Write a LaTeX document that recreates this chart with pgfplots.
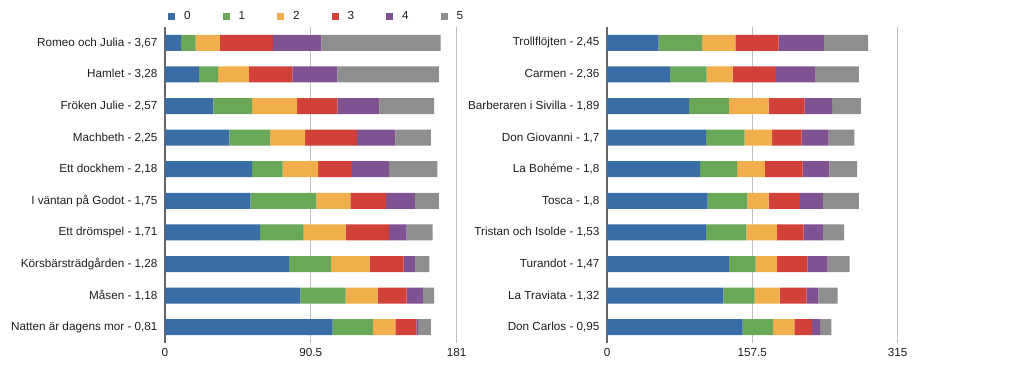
\documentclass[border=0pt]{standalone}
\usepackage{pgfplots}
\pgfplotsset{compat=1.18}
\usepackage{pgfplotstable}
\usepackage{fontspec}
\setmainfont{Liberation Sans}
\definecolor{c0}{RGB}{58,108,165}
\definecolor{c1}{RGB}{106,167,88}
\definecolor{c2}{RGB}{241,175,76}
\definecolor{c3}{RGB}{210,64,58}
\definecolor{c4}{RGB}{129,82,146}
\definecolor{c5}{RGB}{142,142,142}
\definecolor{txt}{RGB}{30,30,30}

\pgfplotstableread{
y c0 c1 c2 c3 c4 c5
0 10 9 15 33 30 74
1 21 12 19 27 28 63
2 30 24 28 25 26 34
3 40 25 22 32 24 22
4 54 19 22 21 23 30
5 53 41 21 22 18 15
6 59 27 26 27 11 16
7 77 26 24 21 7 9
8 84 28 20 18 10 7
9 104 25 14 13 1 8
}\lefttab

\pgfplotstableread{
y c0 c1 c2 c3 c4 c5
0 56 47 36 47 49 48
1 68 40 28 47 43 47
2 89 43 43 39 30 31
3 107 42 30 32 29 28
4 101 40 30 41 29 30
5 109 43 23 34 25 39
6 107 44 33 29 21 23
7 132 29 23 33 22 24
8 126 34 27 29 13 21
9 147 33 23 19 9 12
}\righttab

\pgfplotsset{
  mybase/.style={
    xbar stacked,
    scale only axis,
    height=316pt,
    anchor=south west,
    y dir=reverse,
    ymin=-0.5, ymax=9.5,
    xmin=0,
    bar width=16pt,
    separate axis lines,
    axis x line*=bottom,
    axis y line*=left,
    x axis line style={draw=none},
    y axis line style={draw=black!60, line width=1.2pt},
    xmajorgrids,
    grid style={black!25, line width=0.8pt},
    major tick length=0pt,
    ytick={0,...,9},
    ticklabel style={font=\fontsize{11.7}{13}\selectfont, text=txt},
    xticklabel style={yshift=-2pt},
    yticklabel style={xshift=-4pt},
    every axis plot/.append style={draw=none},
    legend image code/.code={\fill[##1] (0pt,-3.5pt) rectangle (7pt,3.5pt);},
  }
}

\begin{document}
\begin{tikzpicture}
\useasboundingbox (0pt,0pt) rectangle (1024pt,381pt);
\begin{axis}[mybase,
  at={(165pt,38pt)},
  width=291.7pt,
  xmax=181,
  xtick={0,90.5,181},
  xticklabels={0,90.5,181},
  yticklabels={{Romeo och Julia - 3,67},{Hamlet - 3,28},{Fröken Julie - 2,57},{Machbeth - 2,25},{Ett dockhem - 2,18},{I väntan på Godot - 1,75},{Ett drömspel - 1,71},{Körsbärsträdgården - 1,28},{Måsen - 1,18},{Natten är dagens mor - 0,81}},
  legend columns=6,
  legend style={at={(0,1)}, anchor=west, xshift=3pt, yshift=11pt, draw=none, fill=none,
    font=\fontsize{11.7}{13}\selectfont, text=txt, inner sep=0pt,
    /tikz/every odd column/.append style={column sep=7pt},
    /tikz/every even column/.append style={column sep=30pt}},
]
\addplot[fill=c0] table[x=c0,y=y]{\lefttab};
\addplot[fill=c1] table[x=c1,y=y]{\lefttab};
\addplot[fill=c2] table[x=c2,y=y]{\lefttab};
\addplot[fill=c3] table[x=c3,y=y]{\lefttab};
\addplot[fill=c4] table[x=c4,y=y]{\lefttab};
\addplot[fill=c5] table[x=c5,y=y]{\lefttab};
\legend{0,1,2,3,4,5}
\end{axis}
\begin{axis}[mybase,
  at={(607pt,38pt)},
  width=290.7pt,
  xmax=315,
  xtick={0,157.5,315},
  xticklabels={0,157.5,315},
  yticklabels={{Trollflöjten - 2,45},{Carmen - 2,36},{Barberaren i Sivilla - 1,89},{Don Giovanni - 1,7},{La Bohéme - 1,8},{Tosca - 1,8},{Tristan och Isolde - 1,53},{Turandot - 1,47},{La Traviata - 1,32},{Don Carlos - 0,95}},
]
\addplot[fill=c0] table[x=c0,y=y]{\righttab};
\addplot[fill=c1] table[x=c1,y=y]{\righttab};
\addplot[fill=c2] table[x=c2,y=y]{\righttab};
\addplot[fill=c3] table[x=c3,y=y]{\righttab};
\addplot[fill=c4] table[x=c4,y=y]{\righttab};
\addplot[fill=c5] table[x=c5,y=y]{\righttab};
\end{axis}
\end{tikzpicture}
\end{document}
